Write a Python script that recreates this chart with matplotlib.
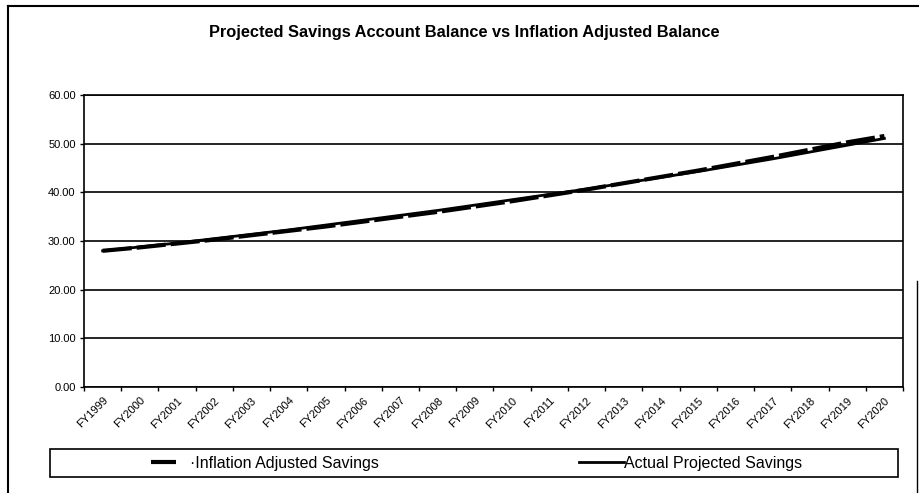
import matplotlib.pyplot as plt
from matplotlib.lines import Line2D
from matplotlib.patches import Rectangle

plt.rcParams['font.family'] = ['Liberation Sans', 'DejaVu Sans']

# fiscal years on the x axis
years = ['FY1999', 'FY2000', 'FY2001', 'FY2002', 'FY2003', 'FY2004', 'FY2005',
         'FY2006', 'FY2007', 'FY2008', 'FY2009', 'FY2010', 'FY2011', 'FY2012',
         'FY2013', 'FY2014', 'FY2015', 'FY2016', 'FY2017', 'FY2018', 'FY2019',
         'FY2020']

# balances
inflation_adjusted = [28.0, 28.7, 29.5, 30.3, 31.2, 32.1, 33.0, 34.0, 35.0, 36.0,
                      37.1, 38.2, 39.4, 40.6, 41.9, 43.2, 44.5, 45.9, 47.3, 48.8,
                      50.3, 51.6]
actual_projected = [28.0, 28.8, 29.6, 30.5, 31.4, 32.3, 33.3, 34.3, 35.3, 36.3,
                    37.4, 38.5, 39.6, 40.7, 41.9, 43.1, 44.3, 45.6, 46.9, 48.3,
                    49.7, 51.1]

yticks = [0, 10, 20, 30, 40, 50, 60]

fig = plt.figure(figsize=(9.2, 4.93), dpi=100)
ax = fig.add_axes([0.0913, 0.215, 0.8902, 0.592])

x = list(range(len(years)))
l1, = ax.plot(x, inflation_adjusted, color='black', lw=3, ls=(0, (7, 1.2)),
              label='·Inflation Adjusted Savings', zorder=3)
l2, = ax.plot(x, actual_projected, color='black', lw=2,
              label='Actual Projected Savings', zorder=3)

ax.set_xlim(-0.5, len(years) - 0.5)
ax.set_ylim(0, 60)
ax.set_yticks(yticks)
ax.set_yticklabels(['%.2f' % v for v in yticks], fontsize=8)
ax.yaxis.grid(True, color='black', lw=1.2)
ax.set_axisbelow(True)

# category ticks between labels, like the spreadsheet chart
ax.set_xticks([i - 0.5 for i in range(len(years) + 1)], minor=False)
ax.set_xticklabels([''] * (len(years) + 1))
ax.set_xticks(x, minor=True)
ax.set_xticklabels(years, minor=True, rotation=45, ha='right',
                   rotation_mode='anchor', fontsize=8)
ax.tick_params(axis='x', which='minor', length=0, pad=6)
ax.tick_params(axis='x', which='major', length=3, width=1, direction='out')
ax.tick_params(axis='y', length=3, width=1, direction='out', pad=3)
for s in ax.spines.values():
    s.set_linewidth(1.2)
    s.set_color('black')

fig.text(0.505, 0.935, 'Projected Savings Account Balance vs Inflation Adjusted Balance',
         ha='center', va='center', fontsize=11.8, fontweight='bold')

# legend box under the chart
fig.patches.append(Rectangle((0.054, 0.032), 0.922, 0.057, transform=fig.transFigure,
                             fill=False, edgecolor='black', lw=1.2))
fig.legend([l1], [l1.get_label()], loc='center left', bbox_to_anchor=(0.148, 0.06),
           frameon=False, fontsize=11.5, handlelength=1.6, handletextpad=0.9)
fig.legend([l2], [l2.get_label()], loc='center left', bbox_to_anchor=(0.614, 0.06),
           frameon=False, fontsize=11.5, handlelength=2.8, handletextpad=0.0)

# outer border of the chart object
fig.add_artist(Line2D([0.009, 0.009], [0.0, 0.988], transform=fig.transFigure, color='black', lw=1.5))
fig.add_artist(Line2D([0.009, 1.0], [0.988, 0.988], transform=fig.transFigure, color='black', lw=1.5))
fig.add_artist(Line2D([0.997, 0.997], [0.0, 0.43], transform=fig.transFigure, color='black', lw=1.0))

plt.savefig('out.png', dpi=100)
